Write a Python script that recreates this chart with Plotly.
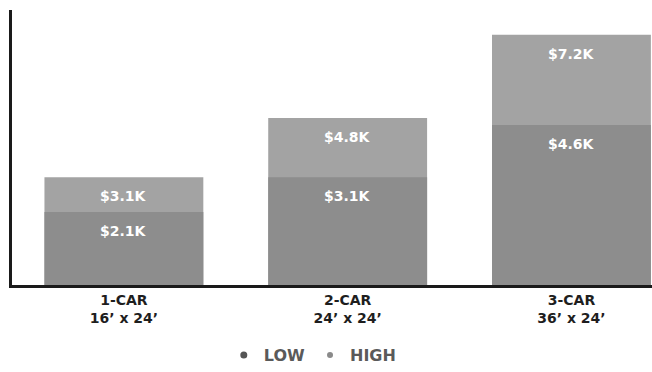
import plotly.graph_objects as go

# Garage build cost ranges (thousands of USD)
categories = ["1-CAR<br>16’ x 24’", "2-CAR<br>24’ x 24’", "3-CAR<br>36’ x 24’"]
low_cost = [2.1, 3.1, 4.6]
high_cost = [3.1, 4.8, 7.2]

LOW_COLOR = "#8d8d8d"
HIGH_COLOR = "#a3a3a3"
FONT = "DejaVu Sans"

fig = go.Figure()

# High estimate drawn full height behind, low estimate in front
fig.add_trace(go.Bar(x=categories, y=high_cost, marker_color=HIGH_COLOR,
                     marker_line_width=0, width=0.71, showlegend=False,
                     hoverinfo="skip"))
fig.add_trace(go.Bar(x=categories, y=low_cost, marker_color=LOW_COLOR,
                     marker_line_width=0, width=0.71, showlegend=False,
                     hoverinfo="skip"))

# Legend entries as round dots
fig.add_trace(go.Scatter(x=[None], y=[None], mode="markers", name="LOW",
                         marker=dict(symbol="circle", size=7, color="#555555")))
fig.add_trace(go.Scatter(x=[None], y=[None], mode="markers", name="HIGH",
                         marker=dict(symbol="circle", size=6, color="#8a8a8a")))

# Value labels near the top of each segment
for series in (high_cost, low_cost):
    for cat, val in zip(categories, series):
        fig.add_annotation(x=cat, y=val, text=f"${val:.1f}K", showarrow=False,
                           yanchor="top", yshift=-9,
                           font=dict(family=FONT, size=14, color="white",
                                     weight="bold"))

fig.update_layout(
    width=652, height=372,
    margin=dict(l=12, r=0, t=10, b=85),
    paper_bgcolor="white", plot_bgcolor="white",
    barmode="overlay",
    font=dict(family=FONT, size=13, color="#222222"),
    xaxis=dict(range=[-0.5, 2.36], showline=True, linecolor="#1a1a1a",
               linewidth=3, ticks="", showgrid=False, zeroline=False,
               automargin=False,
               tickfont=dict(family=FONT, size=14, color="#1e1e1e",
                             weight="bold")),
    yaxis=dict(range=[0, 7.91], showline=True, linecolor="#1a1a1a",
               linewidth=3, showticklabels=False, ticks="", showgrid=False,
               zeroline=False, automargin=False),
    legend=dict(orientation="h", x=0.47, xanchor="center", y=-0.255,
                yanchor="middle", itemwidth=30, itemsizing="trace",
                font=dict(family=FONT, size=16, color="#5a5a5a",
                          weight="bold")),
)

fig.write_html("out.html")
